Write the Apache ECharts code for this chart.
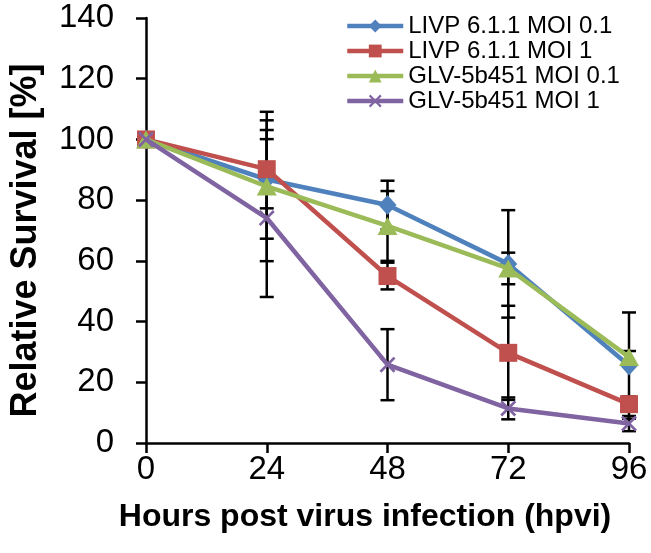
<!DOCTYPE html>
<html><head><meta charset="utf-8">
<script src="https://cdn.jsdelivr.net/npm/echarts@6/dist/echarts.min.js"></script>
<style>html,body{margin:0;padding:0;background:#fff}#c{width:651px;height:553px}</style>
</head><body><div id="c"></div>
<script>
const hours = [0, 24, 48, 72, 96];
const seriesNames = ['LIVP 6.1.1 MOI 0.1', 'LIVP 6.1.1 MOI 1', 'GLV-5b451 MOI 0.1', 'GLV-5b451 MOI 1'];
const livp01 = [100, 86.8, 78.4, 59.0, 25.5];
const livp01Err = [0, 19.5, 8.0, 17.7, 17.5];
const livp1 = [100, 90.2, 55.0, 29.7, 12.8];
const livp1Err = [0, 12.9, 4.4, 15.5, 2.5];
const glv01 = [100, 84.5, 71.5, 57.5, 28.3];
const glv01Err = [0, 24.6, 11.5, 5.2, 2.0];
const glv1 = [100, 74.1, 25.8, 11.4, 6.4];
const glv1Err = [0, 26.0, 11.7, 3.6, 2.5];
const yTicks = [0, 20, 40, 60, 80, 100, 120, 140];
const xTicks = [0, 24, 48, 72, 96];

const colors = ['#4F81BD', '#C0504D', '#9BBB59', '#8064A2'];
const values = [livp01, livp1, glv01, glv1];
const errs = [livp01Err, livp1Err, glv01Err, glv1Err];
const symbols = ['diamond', 'rect', 'triangle',
  'path://M0,1.2L1.2,0L5,3.8L8.8,0L10,1.2L6.2,5L10,8.8L8.8,10L5,6.2L1.2,10L0,8.8L3.8,5Z'];
const symbolSizes = [[18, 20], 18, [20, 18], 16];
const FONT = 'Liberation Sans, Arial, sans-serif';

const chart = echarts.init(document.getElementById('c'));
const series = [];
// error bars
values.forEach((vals, si) => {
  const data = hours.map((h, i) => [h, vals[i] - errs[si][i], vals[i] + errs[si][i]]);
  series.push({
    type: 'custom', z: 1, silent: true,
    renderItem: function (params, api) {
      const x = api.value(0), lo = api.value(1), hi = api.value(2);
      if (hi - lo < 0.01) return null;
      const pLo = api.coord([x, lo]), pHi = api.coord([x, hi]);
      const cw = 7;
      const st = {stroke: '#000', lineWidth: 2.5};
      return {type: 'group', children: [
        {type: 'line', shape: {x1: pLo[0], y1: pLo[1], x2: pHi[0], y2: pHi[1]}, style: st},
        {type: 'line', shape: {x1: pLo[0] - cw, y1: pLo[1], x2: pLo[0] + cw, y2: pLo[1]}, style: st},
        {type: 'line', shape: {x1: pHi[0] - cw, y1: pHi[1], x2: pHi[0] + cw, y2: pHi[1]}, style: st}
      ]};
    },
    data: data
  });
});
values.forEach((vals, si) => {
  series.push({
    name: seriesNames[si], type: 'line', z: 3 + si,
    data: hours.map((h, i) => [h, vals[i]]),
    symbol: symbols[si], symbolSize: symbolSizes[si], showSymbol: true,
    lineStyle: {color: colors[si], width: 4.5},
    itemStyle: {color: colors[si], opacity: 1},
    emphasis: {disabled: true}
  });
});

chart.setOption({
  animation: false,
  backgroundColor: '#fff',
  grid: {left: 143, right: 22, top: 18, bottom: 110, containLabel: false},
  legend: {
    orient: 'vertical', left: 340, top: 9, itemGap: 1,
    itemWidth: 56, itemHeight: 16,
    data: seriesNames.map(n => ({name: n, lineStyle: {width: 4.5}})),
    lineStyle: {width: 4.5},
    textStyle: {fontFamily: FONT, fontSize: 24, color: '#000'}
  },
  xAxis: {
    type: 'value', min: 0, max: 96, interval: 24,
    name: 'Hours post virus infection (hpvi)', nameLocation: 'middle', nameGap: 58,
    nameTextStyle: {fontFamily: FONT, fontSize: 32, fontWeight: 'bold', color: '#000', padding: [0, 45, 0, 0]},
    axisLine: {show: true, lineStyle: {color: '#000', width: 2.5}},
    axisTick: {show: true, inside: false, length: 10, lineStyle: {color: '#000', width: 2.5}},
    axisLabel: {fontFamily: FONT, fontSize: 33, color: '#000', margin: 10,
      formatter: v => xTicks.includes(v) ? String(v) : ''},
    splitLine: {show: false}
  },
  yAxis: {
    type: 'value', min: 0, max: 140, interval: 20,
    name: 'Relative Survival [%]', nameLocation: 'middle', nameGap: 102,
    nameTextStyle: {fontFamily: FONT, fontSize: 36, fontWeight: 'bold', color: '#000', padding: [0, 20, 0, 0]},
    axisLine: {show: true, lineStyle: {color: '#000', width: 2.5}},
    axisTick: {show: true, inside: false, length: 10, lineStyle: {color: '#000', width: 2.5}},
    axisLabel: {fontFamily: FONT, fontSize: 33, color: '#000', margin: 32,
      formatter: v => yTicks.includes(v) ? String(v) : ''},
    splitLine: {show: false}
  },
  series: series
});
</script></body></html>
